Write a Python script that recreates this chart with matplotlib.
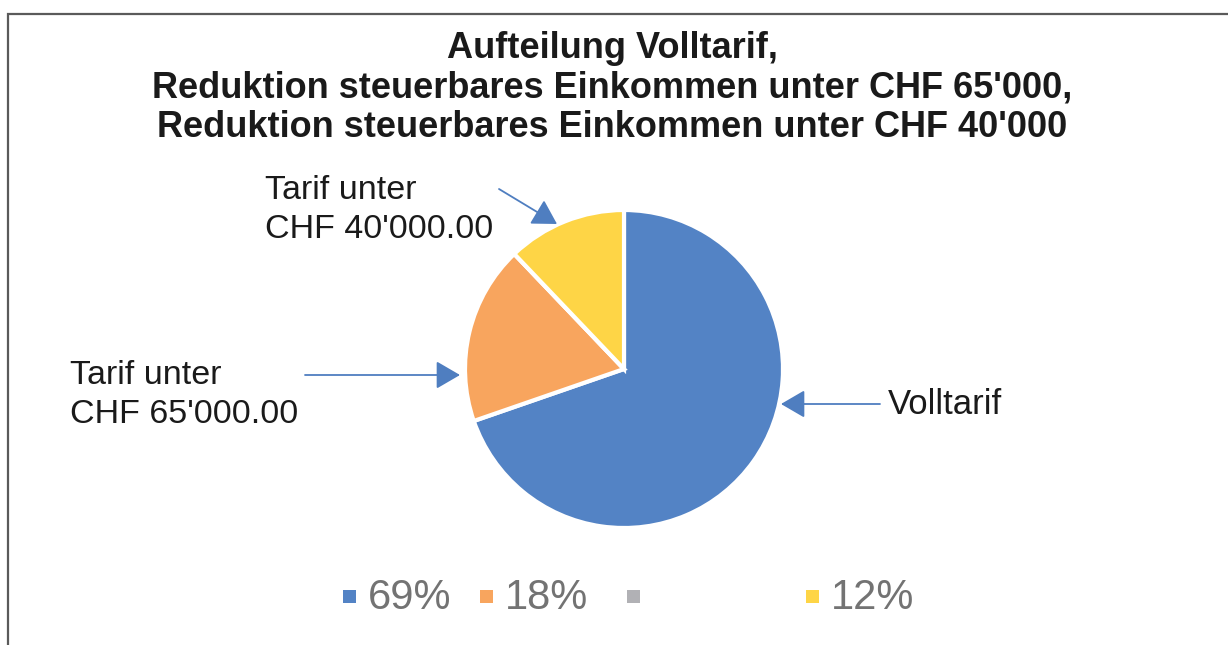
import matplotlib
matplotlib.use("Agg")
import matplotlib.pyplot as plt
from matplotlib.patches import Rectangle

plt.rcParams['font.family'] = ['Liberation Sans', 'DejaVu Sans']

# data
shares = [69, 18, 0, 12]
legend_labels = ['69%', '18%', '', '12%']
colors = ['#5383C5', '#F8A55E', '#B1B1B5', '#FED546']
title = ("Aufteilung Volltarif,\n"
         "Reduktion steuerbares Einkommen unter CHF 65'000,\n"
         "Reduktion steuerbares Einkommen unter CHF 40'000")
slice_labels = ['Volltarif', "Tarif unter\nCHF 65'000.00", '', "Tarif unter\nCHF 40'000.00"]

W, H = 1228, 645
fig = plt.figure(figsize=(W / 100, H / 100), dpi=100)
ax = fig.add_axes([0, 0, 1, 1])
ax.set_xlim(0, W)
ax.set_ylim(0, H)
ax.set_aspect('equal')
ax.axis('off')

# frame (only top and left visible in the original crop)
ax.add_patch(Rectangle((8, -10), W + 20, H - 14 + 10, fill=False,
                       edgecolor='#5a5a5a', linewidth=1.6))

cx, cy, r = 624, H - 369, 159
wedges, _ = ax.pie(shares, colors=colors, startangle=90, counterclock=False,
                   center=(cx, cy), radius=r,
                   wedgeprops=dict(edgecolor='white', linewidth=3))
ax.set_xlim(0, W)
ax.set_ylim(0, H)

ax.text(612, H - 88, title, ha='center', va='center', fontsize=26,
        fontweight='bold', color='#1a1a1a', linespacing=1.18)

# callout labels
arrow = dict(arrowstyle='-|>,head_length=0.55,head_width=0.32', color='#4F7EC0',
             lw=1.3, mutation_scale=27, shrinkA=0, shrinkB=0)
ax.text(888, H - 404, slice_labels[0], fontsize=25, color='#1a1a1a',
        ha='left', va='center')
ax.annotate('', xy=(781, H - 404), xytext=(880, H - 404), arrowprops=arrow)
ax.text(70, H - 395, slice_labels[1], fontsize=24.5, color='#1a1a1a',
        ha='left', va='center', linespacing=1.3)
ax.annotate('', xy=(460, H - 375), xytext=(305, H - 375), arrowprops=arrow)
ax.text(265, H - 210, slice_labels[3], fontsize=24.5, color='#1a1a1a',
        ha='left', va='center', linespacing=1.3)
ax.annotate('', xy=(557, H - 224), xytext=(499, H - 189), arrowprops=arrow)

# legend
leg_x = [343, 480, 627, 806]
for x, c, lab in zip(leg_x, colors, legend_labels):
    ax.add_patch(Rectangle((x, H - 603), 13, 13, facecolor=c, edgecolor='none'))
    ax.text(x + 25, H - 598, lab, fontsize=30, color='#737373', ha='left', va='center')

fig.savefig('out.png', dpi=100)
